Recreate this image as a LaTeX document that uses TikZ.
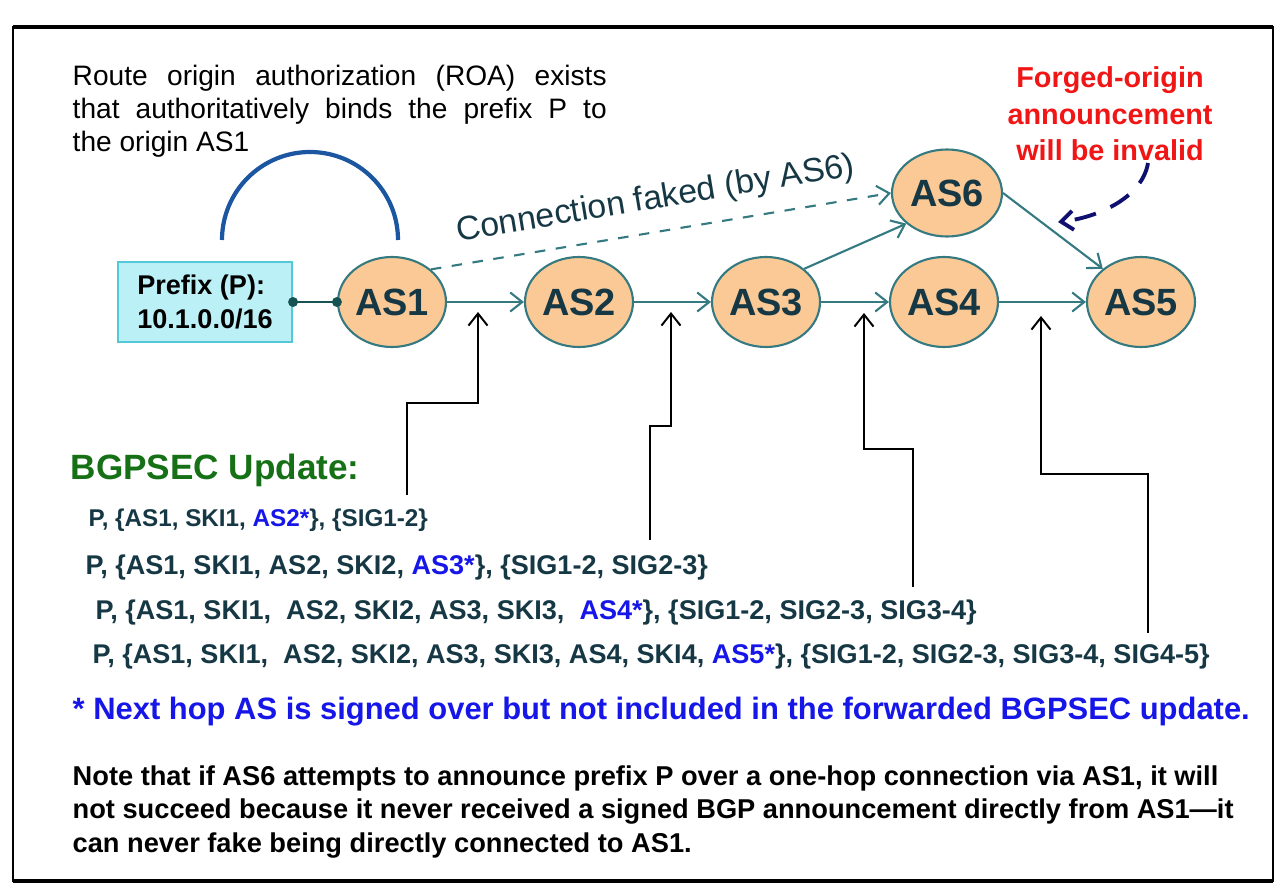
\documentclass[tikz,border=0pt]{standalone}
\usepackage{fontspec}
\setmainfont{Liberation Sans}
\usetikzlibrary{arrows.meta,shapes.geometric}

\definecolor{asfill}{RGB}{250,201,150}
\definecolor{asedge}{RGB}{52,122,128}
\definecolor{astext}{RGB}{22,56,68}
\definecolor{pfxfill}{RGB}{186,240,246}
\definecolor{pfxedge}{RGB}{84,200,214}
\definecolor{dotteal}{RGB}{22,84,84}
\definecolor{roablue}{RGB}{28,86,160}
\definecolor{updgreen}{RGB}{22,112,22}
\definecolor{nhblue}{RGB}{22,22,232}
\definecolor{forgedred}{RGB}{240,22,22}
\definecolor{navy}{RGB}{16,16,112}

\begin{document}
\begin{tikzpicture}[>={Straight Barb[length=1.2mm,width=1.9mm]},
	asnode/.style={ellipse, draw=asedge, fill=asfill, line width=0.6pt, minimum width=1.08cm, minimum height=0.90cm, inner sep=0pt, text=astext, font=\fontsize{10.8}{12}\selectfont\bfseries},
	link/.style={->, asedge, line width=0.6pt},
	ptr/.style={->, black, line width=0.55pt},
	updline/.style={anchor=west, inner sep=0pt, text=astext, font=\fontsize{7.7}{9}\selectfont\bfseries}]
	\useasboundingbox (0,0) rectangle (12.86,8.94);
	% frame
	\draw[line width=0.5pt] (0.13,0.13) rectangle (12.73,8.67);
	\draw[line width=1pt] (0.13,8.67) -- (12.73,8.67);
	\draw[line width=1pt] (0.13,0.13) -- (12.73,0.13);

	\node[anchor=north west, text width=5.34cm, align=justify, inner sep=0pt, font=\fontsize{8}{9.5}\selectfont] (roa) at (0.72,8.30) {Route origin authorization (ROA) exists\linebreak that authoritatively binds the prefix P to\linebreak the origin AS1};
	\draw[roablue, line width=1.2pt] (2.22,6.54) arc[start angle=180, end angle=0, radius=0.88];

	% autonomous systems
	\node[draw=pfxedge, fill=pfxfill, line width=0.6pt, minimum width=1.74cm, minimum height=0.80cm, align=left, font=\fontsize{7.7}{9.6}\selectfont\bfseries] (pfx) at (2.05,5.92) {Prefix (P):\\10.1.0.0/16};
	\node[asnode] (AS1) at (3.92,5.92) {AS1};
	\node[asnode] (AS2) at (5.79,5.92) {AS2};
	\node[asnode] (AS3) at (7.66,5.92) {AS3};
	\node[asnode] (AS4) at (9.44,5.92) {AS4};
	\node[asnode] (AS5) at (11.41,5.92) {AS5};
	\node[asnode, minimum width=1.10cm, minimum height=0.87cm] (AS6) at (9.47,7.01) {AS6};

	\draw[dotteal, line width=0.6pt] (pfx.east) -- (AS1.west);
	\fill[dotteal] (pfx.east) circle (0.05) (AS1.west) circle (0.05);
	\draw[link] (AS1) -- (AS2);
	\draw[link] (AS2) -- (AS3);
	\draw[link] (AS3) -- (AS4);
	\draw[link] (AS4) -- (AS5);
	\draw[link] (AS3.41) -- (AS6.217);
	\draw[link] (AS6.east) -- (AS5.139);
	\draw[link, dashed] (AS1.40) -- (AS6.west) node[midway, above=1pt, sloped, text=astext, font=\fontsize{9.6}{11}\selectfont] {Connection faked (by AS6)};

	\node[anchor=north, align=center, inner sep=0pt, text=forgedred, font=\fontsize{8.2}{10.4}\selectfont\bfseries] (forged) at (11.10,8.28) {Forged-origin\\announcement\\will be invalid};
	\coordinate (fg) at (11.48,7.31);
	\coordinate (fgtip) at (10.58,6.72);
	\draw[->, navy, line width=1.1pt, dash pattern=on 2.2mm off 1.6mm] (fg) .. controls (11.42,6.95) and (10.95,6.76) .. (fgtip);

	% update lines
	\node[anchor=west, inner sep=0pt, text=updgreen, font=\fontsize{10}{12}\selectfont\bfseries] (title) at (0.70,4.24) {BGPSEC Update:};
	\node[updline, font=\fontsize{6.9}{8}\selectfont\bfseries] (u1) at (0.88,3.74) {P, \{AS1, SKI1, {\color{nhblue}AS2*}\}, \{SIG1-2\}};
	\node[updline] (u2) at (0.85,3.26) {P, \{AS1, SKI1, AS2, SKI2, {\color{nhblue}AS3*}\}, \{SIG1-2, SIG2-3\}};
	\node[updline] (u3) at (0.95,2.81) {P, \{AS1, SKI1,\ \ AS2, SKI2, AS3, SKI3,\ \ {\color{nhblue}AS4*}\}, \{SIG1-2, SIG2-3, SIG3-4\}};
	\node[updline] (u4) at (0.92,2.37) {P, \{AS1, SKI1,\ \ AS2, SKI2, AS3, SKI3, AS4, SKI4, {\color{nhblue}AS5*}\}, \{SIG1-2, SIG2-3, SIG3-4, SIG4-5\}};

	% pointers to the hops
	\coordinate (t1) at (4.78,5.82);
	\coordinate (t2) at (6.71,5.82);
	\coordinate (t3) at (8.64,5.81);
	\coordinate (t4) at (10.41,5.78);
	\coordinate (b1) at (4.07,3.99);
	\coordinate (b2) at (6.50,3.54);
	\coordinate (b3) at (9.13,3.07);
	\coordinate (b4) at (11.48,2.61);
	\draw[ptr] (b1) -- ++(0,0.92) -| (t1);
	\draw[ptr] (b2) -- ++(0,1.14) -| (t2);
	\draw[ptr] (b3) -- ++(0,1.38) -| (t3);
	\draw[ptr] (b4) -- ++(0,1.59) -| (t4);

	\node[anchor=west, inner sep=0pt, text=nhblue, font=\fontsize{8.8}{10}\selectfont\bfseries] (nexthop) at (0.72,1.82) {* Next hop AS is signed over but not included in the forwarded BGPSEC update.};
	\node[anchor=north west, align=left, inner sep=0pt, font=\fontsize{7.75}{9.5}\selectfont\bfseries] (note) at (0.72,1.29) {Note that if AS6 attempts to announce prefix P over a one-hop connection via AS1, it will\\not succeed because it never received a signed BGP announcement directly from AS1—it\\can never fake being directly connected to AS1.};
\end{tikzpicture}
\end{document}
